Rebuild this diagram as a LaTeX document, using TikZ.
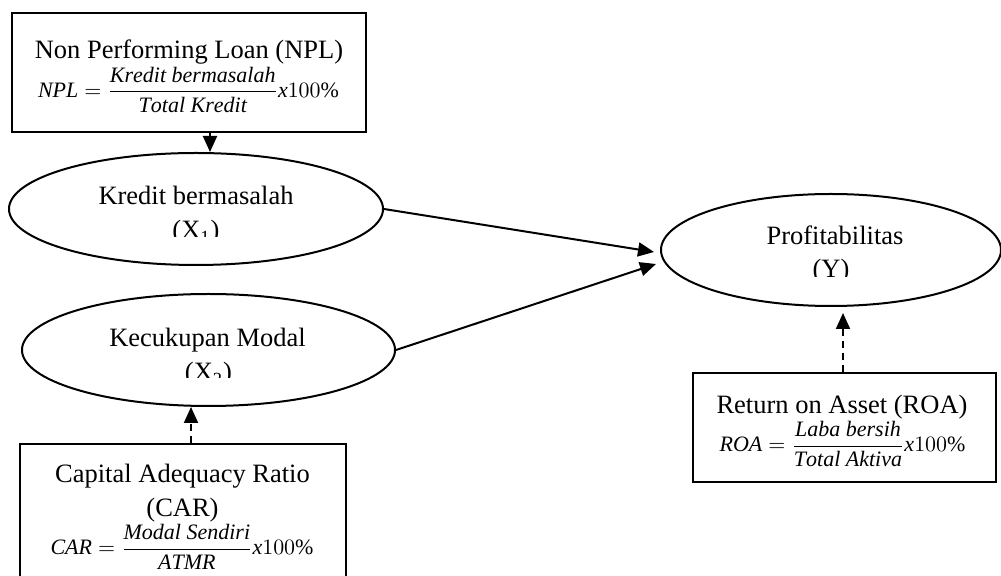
\documentclass[tikz,border=0pt]{standalone}
\usepackage{fontspec}
\setmainfont{Liberation Serif}
\usepackage{amsmath}
\usetikzlibrary{shapes.geometric,arrows.meta}
\tikzstyle{indicator}=[draw,line width=1.4pt,inner sep=0pt]
\tikzstyle{construct}=[ellipse,draw,line width=1pt,inner sep=0pt,minimum height=56pt]
\tikzstyle{edge}=[draw,line width=1pt,->,>={Triangle[length=8pt,width=7pt]}]
\tikzstyle{measure}=[edge,dash pattern=on 3.5pt off 2.5pt]
\tikzstyle{lbl}=[font=\fontsize{13.25}{16}\selectfont,inner sep=0pt]
\tikzstyle{formula}=[font=\fontsize{11}{13}\selectfont,inner sep=0pt]

\begin{document}
\begin{tikzpicture}[x=0.5pt,y=-0.5pt]
  \useasboundingbox (0,0) rectangle (1001,576);
    % First the indicator boxes
    \foreach \pos/\name/\w/\h in {{(189,72.5)/npl/177pt/59.5pt},{(183,517)/car/163pt/73pt},
                                  {(844.5,427.5)/roa/151.5pt/54.5pt}}
        \node[indicator,minimum width=\w,minimum height=\h] (\name) at \pos {};
    % Then the latent variables
    \foreach \pos/\name/\w in {{(196,209)/kredit/187pt},{(208.5,350)/modal/186.5pt},{(831,250)/profit/170pt}}
        \node[construct,minimum width=\w] (\name) at \pos {};
    % Titles
    \foreach \pos/\name/\text in {{(189,59)/npl-title/Non Performing Loan (NPL)},
                                  {(182.5,483)/car-title/Capital Adequacy Ratio},{(182.5,517)/car-abbr/(CAR)},
                                  {(842,414)/roa-title/Return on Asset (ROA)},
                                  {(196,205)/kredit-title/Kredit bermasalah},{(207.5,347)/modal-title/Kecukupan Modal},
                                  {(835,245)/profit-title/Profitabilitas}}
        \node[lbl,anchor=base] (\name) at \pos {\text};
    % Second lines, cut off at the bottom
    \foreach \name/\text/\base/\cut in {kredit/(X\textsubscript{1})/239/237,modal/(X\textsubscript{2})/381/378,
                                        profit/(Y)/278/277}{
      \begin{scope}
        \clip (\name.west) rectangle (\name.east |- 0,\cut);
        \node[lbl,anchor=base] (\name-sub) at (\name.center |- 0,\base) {\text};
      \end{scope}
    }
    % Formulas
    \node[formula] (npl-formula) at (188.5,90) {$\mathit{NPL}=\dfrac{\mathit{Kredit\ bermasalah}}{\mathit{Total\ Kredit}}\mathit{x}100\%$};
    \node[formula] (car-formula) at (182,547) {$\mathit{CAR}=\dfrac{\mathit{Modal\ Sendiri}}{\mathit{ATMR}}\mathit{x}100\%$};
    \node[formula] (roa-formula) at (842.5,444) {$\mathit{ROA}=\dfrac{\mathit{Laba\ bersih}}{\mathit{Total\ Aktiva}}\mathit{x}100\%$};
    % Connect with edges
    \path[edge] (kredit.east) -- ([xshift=-3pt,yshift=-1pt]profit.west);
    \path[edge] (modal.east) -- ([xshift=-2pt,yshift=-7pt]profit.west);
    \path[measure] ([xshift=10.5pt]npl.south) -- ([xshift=10.5pt]npl.south |- kredit.north);
    \path[measure] ([xshift=4pt]car.north) -- ([xshift=4pt]car.north |- modal.south);
    \path[measure,shorten >=3pt] ([xshift=-0.75pt]roa.north) -- ([xshift=-0.75pt]roa.north |- profit.south);
\end{tikzpicture}
\end{document}
